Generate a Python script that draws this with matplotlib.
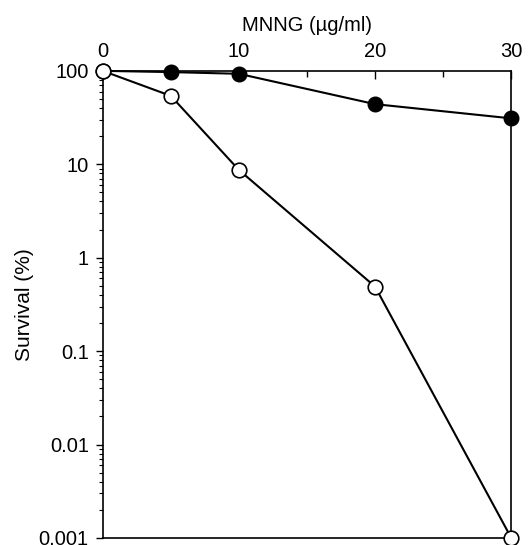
import matplotlib
matplotlib.use("Agg")
import matplotlib.pyplot as plt
from matplotlib.ticker import FixedLocator, LogLocator, NullFormatter

dose = [0, 5, 10, 20, 30]
survival_filled = [100, 97, 93, 44, 31]
survival_open = [100, 54, 8.7, 0.49, 0.001]

xticks = [0, 10, 20, 30]
yticks = [100, 10, 1, 0.1, 0.01, 0.001]
ylabels = ["100", "10", "1", "0.1", "0.01", "0.001"]

plt.rcParams['font.family'] = ['Liberation Sans', 'DejaVu Sans']

fig = plt.figure(figsize=(5.32, 5.45), dpi=100)
ax = fig.add_axes([0.193, 0.013, 0.768, 0.857])

ax.plot(dose, survival_filled, color='black', lw=1.5, marker='o', ms=10.5,
        mfc='black', mec='black', clip_on=False, zorder=3)
ax.plot(dose, survival_open, color='black', lw=1.5, marker='o', ms=10.5,
        mfc='white', mec='black', mew=1.2, clip_on=False, zorder=4)

ax.set_yscale('log')
ax.set_xlim(0, 30)
ax.set_ylim(0.001, 100)

ax.xaxis.tick_top()
ax.xaxis.set_label_position('top')
ax.set_xticks(xticks)
ax.xaxis.set_minor_locator(FixedLocator([5, 15, 25]))
ax.tick_params(axis='x', which='major', direction='in', length=6, width=1,
               labelsize=14.5, pad=7)
ax.tick_params(axis='x', which='minor', direction='in', length=4, width=1)
ax.set_xlabel('MNNG (\u00b5g/ml)', fontsize=14.5, labelpad=8)

ax.set_yticks(yticks)
ax.set_yticklabels(ylabels)
ax.yaxis.set_minor_locator(LogLocator(base=10, subs=range(2, 10)))
ax.yaxis.set_minor_formatter(NullFormatter())
ax.tick_params(axis='y', which='major', direction='out', length=5, width=1,
               labelsize=14.5, pad=5)
ax.tick_params(axis='y', which='minor', direction='out', length=3, width=0.8)
ax.set_ylabel('Survival (%)', fontsize=15, labelpad=3)

for s in ax.spines.values():
    s.set_linewidth(1.2)

fig.savefig('out.png', dpi=100)
